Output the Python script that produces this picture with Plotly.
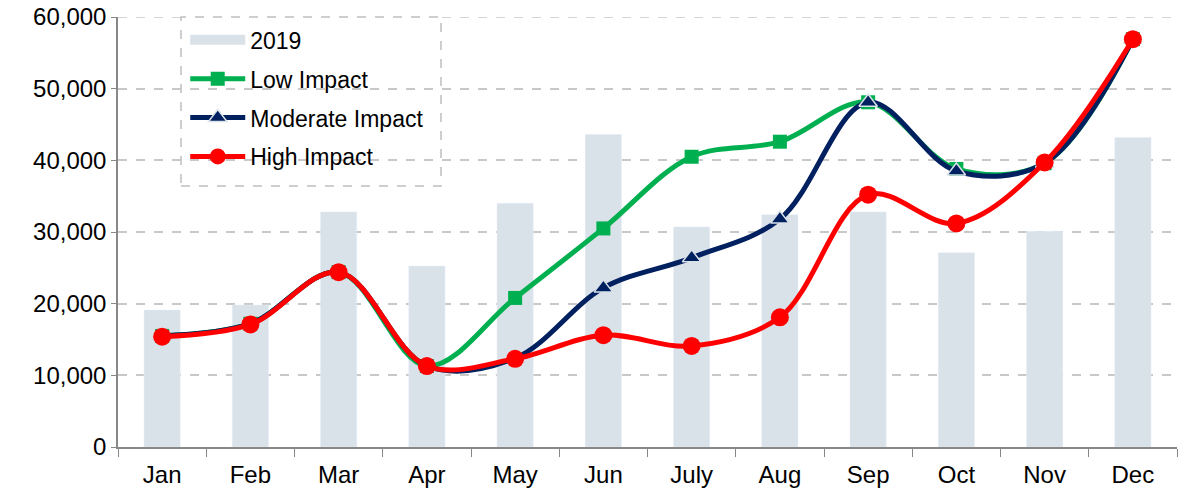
import plotly.graph_objects as go

months = ["Jan", "Feb", "Mar", "Apr", "May", "Jun", "July", "Aug", "Sep", "Oct", "Nov", "Dec"]
y2019 = [19100, 19800, 32800, 25250, 34000, 43600, 30700, 32400, 32800, 27100, 30100, 43200]
low_impact = [15500, 17200, 24400, 11300, 20800, 30500, 40500, 42600, 48100, 38800, 39600, 56900]
moderate_impact = [15500, 17200, 24400, 11300, 12400, 22200, 26400, 31800, 48100, 38500, 39600, 56900]
high_impact = [15400, 17100, 24400, 11300, 12300, 15600, 14100, 18100, 35200, 31200, 39700, 56900]
y_max = 60000

BAR_COLOR = "#D9E1E9"

fig = go.Figure()
fig.add_trace(go.Bar(x=months, y=y2019, name="2019", marker_color=BAR_COLOR,
                     width=0.41, showlegend=False))
# legend sample for the bar series (wide flat swatch like the original)
fig.add_trace(go.Scatter(x=[None], y=[None], name="2019", mode="lines",
                         line=dict(color=BAR_COLOR, width=11), legendgroup="a"))
fig.add_trace(go.Scatter(x=months, y=low_impact, name="Low Impact", mode="lines+markers",
                         line=dict(color="#00B050", width=5, shape="spline", smoothing=1.0),
                         marker=dict(symbol="square", size=14, color="#00B050"),
                         legendgroup="b"))
fig.add_trace(go.Scatter(x=months, y=moderate_impact, name="Moderate Impact", mode="lines+markers",
                         line=dict(color="#002060", width=5, shape="spline", smoothing=1.0),
                         marker=dict(symbol="triangle-up", size=16, color="#002060",
                                     line=dict(color="#D9E1E9", width=1.5)),
                         legendgroup="c"))
fig.add_trace(go.Scatter(x=months, y=high_impact, name="High Impact", mode="lines+markers",
                         line=dict(color="#FF0000", width=5, shape="spline", smoothing=1.0),
                         marker=dict(symbol="circle", size=18, color="#FF0000"),
                         legendgroup="d"))

PW = 1059
PH = 430
x0 = (181 - 118) / PW
x1 = (441 - 118) / PW
# top gridline at the axis maximum
fig.add_shape(type="line", xref="paper", yref="y", x0=0, x1=1, y0=y_max, y1=y_max,
              line=dict(color="#C8C8C8", width=1.5, dash="dash"), layer="below")
fig.add_shape(type="rect", xref="paper", yref="paper", x0=x0, x1=x1, y0=(447 - 186) / PH, y1=1.0,
              line=dict(color="#BFBFBF", width=1.5, dash="dash"), fillcolor="white", layer="below")

fig.update_layout(
    width=1187, height=494,
    margin=dict(l=118, r=10, t=17, b=47),
    paper_bgcolor="white", plot_bgcolor="white",
    font=dict(family="Arial, Liberation Sans", size=24, color="black"),
    showlegend=True,
    legend=dict(x=x0 + 0.004, y=0.997, xanchor="left", yanchor="top", bgcolor="rgba(0,0,0,0)",
                font=dict(size=23), tracegroupgap=6, itemwidth=55),
    xaxis=dict(range=[-0.5, len(months) - 0.5], showline=True, linecolor="#888888", linewidth=1.5,
               ticks="outside", ticklen=8,
               tickcolor="#888888", tickson="boundaries", showgrid=False, automargin=False,
               ticklabelstandoff=5, tickfont=dict(size=24)),
    yaxis=dict(range=[0, y_max], dtick=10000, tickformat=",d", showline=True, linecolor="#888888",
               linewidth=1.5, ticks="outside", ticklen=5, tickcolor="#888888",
               showgrid=True, gridcolor="#C8C8C8", griddash="dash", gridwidth=1.5,
               zeroline=False, automargin=False, ticklabeloverflow="allow",
               tickfont=dict(size=24)),
)

fig.write_html("out.html", config={"displayModeBar": False},
               post_script="document.body.style.margin='0';document.body.style.overflow='hidden';")
